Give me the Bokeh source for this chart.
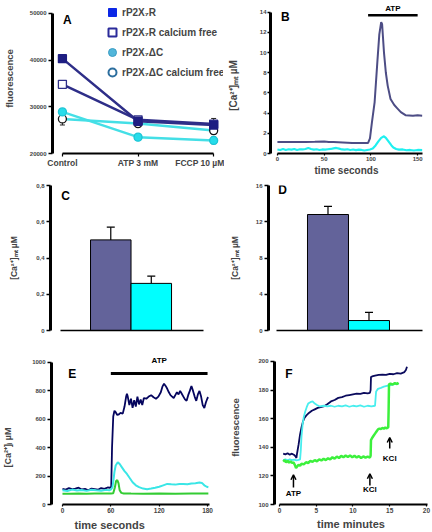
from bokeh.plotting import figure
from bokeh.layouts import row, column
from bokeh.models import (ColumnDataSource, FixedTicker, Whisker, TeeHead, Legend, LegendItem,
                          Arrow, OpenHead, Title, Range1d)
from bokeh.core.properties import value
from bokeh.embed import file_html
from bokeh.resources import INLINE

FONT = "Liberation Sans"
NBSP = "\u00a0"

# ---------------- data ----------------
# Panel A: fluorescence per condition
a_conditions = ["Control", "ATP 3 mM", "FCCP 10 µM"]
a_wt = [40300, 26900, 26100]
a_wt_err = [400, 300, 600]
a_wt_cafree = [34800, 27200, 26300]
a_wt_cafree_err = [500, 300, 1200]
a_dc = [28900, 23500, 22800]
a_dc_err = [400, 500, 700]
a_dc_cafree = [27400, 26400, 24900]
a_dc_cafree_err = [1300, 400, 700]
a_yticks = [20000, 30000, 40000, 50000]

# Panel B: [Ca2+]mt traces (s, uM)
b_t_dark = [0, 10, 20, 30, 40, 50, 55, 60, 70, 80, 90, 97, 99, 101, 104, 107, 109, 111, 112, 114,
            116, 118, 121, 125, 128, 132, 137, 145, 150, 155]
b_dark = [1.15, 1.15, 1.13, 1.15, 1.17, 1.2, 1.15, 1.15, 1.1, 1.05, 1.05, 1.05, 1.5, 3.0, 5.1, 9.2,
          11.8, 13.0, 12.8, 10.0, 8.0, 6.7, 5.4, 4.8, 4.5, 4.1, 3.8, 3.75, 3.8, 3.75]
b_t_cyan = [0, 3, 6, 9, 12, 15, 18, 21, 24, 27, 30, 33, 36, 39, 42, 45, 48, 51, 54, 57, 60, 63, 66,
            69, 72, 75, 78, 81, 84, 87, 90, 93, 96, 99, 102, 105, 108, 111, 114, 116, 118, 120, 122,
            124, 127, 130, 134, 138, 142, 146, 150, 155]
b_cyan = [0.4, 0.35, 0.45, 0.35, 0.42, 0.38, 0.45, 0.35, 0.42, 0.4, 0.45, 0.55, 0.45, 0.38, 0.42,
          0.35, 0.4, 0.38, 0.42, 0.45, 0.5, 0.55, 0.48, 0.4, 0.38, 0.42, 0.35, 0.4, 0.33, 0.38, 0.35,
          0.3, 0.35, 0.4, 0.5, 0.8, 1.2, 1.55, 1.7, 1.55, 1.3, 1.05, 0.8, 0.6, 0.45, 0.38, 0.4, 0.32,
          0.35, 0.3, 0.35, 0.33]
b_atp = [97, 150]
b_yticks = [0, 2, 4, 6, 8, 10, 12, 14]
b_xticks = [0, 50, 100, 150]

# Panel C / D: bars
cd_groups = [1, 2]
c_values = [0.50, 0.26]
c_err = [0.07, 0.04]
c_yticks = [0, 0.2, 0.4, 0.6, 0.8]
c_ylabels = ["0", "0,2", "0,4", "0,6", "0,8"]
d_values = [12.8, 1.1]
d_err = [0.9, 0.9]
d_yticks = [0, 4, 8, 12, 16]

# Panel E: [Ca2+]i traces (s)
e_t_navy = [0, 4, 8, 12, 16, 20, 24, 28, 32, 36, 40, 44, 48, 52, 56, 59, 60.5, 61.5, 63, 64.5, 66,
            68, 70, 72, 74.8, 77, 79, 80, 81, 83, 85, 87, 89, 91, 93, 95, 97, 99, 101, 104, 107, 110,
            113, 116, 119, 122, 124, 126, 128, 130, 132, 134, 136, 138, 140, 142, 144, 146, 148, 150,
            152, 154, 156, 158, 160, 162, 164, 166, 168, 170, 172, 174, 176, 178, 180, 181]
e_navy = [110, 105, 115, 108, 112, 118, 106, 110, 100, 112, 108, 104, 116, 110, 120, 118, 125, 400,
          620, 660, 650, 630, 635, 645, 640, 690, 760, 780, 760, 700, 745, 680, 735, 690, 760, 705,
          740, 700, 750, 745, 760, 770, 755, 745, 760, 790, 830, 850, 835, 815, 790, 770, 760, 750,
          770, 790, 775, 800, 780, 760, 740, 730, 770, 800, 835, 800, 760, 730, 775, 800, 760, 700,
          680, 720, 750, 755]
e_t_cyan = [0, 6, 12, 18, 24, 30, 36, 42, 48, 54, 58, 60, 62, 63, 64.5, 66, 68.6, 71, 74, 77, 80, 83,
            87, 91, 95, 100, 105, 110, 115, 120, 125, 130, 135, 140, 145, 150, 155, 160, 165, 170,
            173, 176, 179, 181]
e_cyan = [100, 95, 105, 98, 102, 96, 104, 100, 97, 103, 100, 105, 120, 160, 230, 275, 298, 285, 260,
          235, 215, 190, 157, 135, 122, 112, 108, 112, 118, 125, 135, 145, 142, 140, 145, 145, 142,
          148, 150, 155, 152, 135, 125, 122]
e_t_green = [0, 10, 20, 30, 40, 50, 60, 63, 65, 66.5, 68, 69.5, 71, 73, 76, 85, 100, 120, 140, 160,
             181]
e_green = [75, 76, 78, 76, 78, 77, 78, 80, 120, 165, 172, 150, 100, 82, 78, 77, 76, 78, 76, 77, 78]
e_atp = [60, 180]
e_yticks = [0, 200, 400, 600, 800, 1000]
e_xticks = [0, 60, 120, 180]

# Panel F: fluorescence traces (min)
f_t_navy = [0.5, 0.8, 1.1, 1.4, 1.7, 2.0, 2.2, 2.3, 2.4, 2.6, 2.8, 3.0, 3.2, 3.4, 3.7, 4.0, 4.4, 4.8,
            5.2, 5.6, 6.0, 6.5, 7.0, 7.5, 8.0, 8.5, 9.0, 9.5, 10.0, 10.5, 11.0, 11.5, 12.0, 12.3,
            12.4, 12.45, 12.6, 13.0, 13.5, 14.0, 14.5, 15.0, 15.5, 16.0, 16.5, 17.0, 17.2, 17.35]
f_navy = [135.5, 135, 135.8, 134.8, 135.5, 134.6, 133.5, 132.5, 136, 142, 149, 154, 158, 160.5,
          162.5, 164, 165.5, 166.5, 167.5, 168, 168.5, 170, 172, 173, 174.5, 175, 176, 176.5, 177,
          177.5, 177.3, 178, 177.6, 178, 180, 189, 189.5, 190, 190.5, 190.8, 190.5, 191.2, 191,
          191.8, 191.5, 192.5, 194, 196.3]
f_t_cyan = [0.5, 0.8, 1.1, 1.4, 1.7, 2.0, 2.3, 2.6, 2.8, 2.9, 3.0, 3.15, 3.3, 3.5, 3.7, 3.9, 4.2,
            4.5, 4.8, 5.1, 5.5, 6.0, 6.5, 7.0, 7.5, 8.0, 8.5, 9.0, 9.5, 10.0, 10.5, 11.0, 11.5, 12.0,
            12.5, 13.0, 13.1, 13.15, 13.4, 13.8, 14.2, 14.6, 15.0, 15.4, 15.8, 16.2]
f_cyan = [131, 131.5, 130.8, 131.5, 131, 131.3, 130.8, 131.2, 131.5, 138, 148, 156, 161, 165, 168,
          170.5, 171.5, 172, 170.5, 169.5, 168.5, 169, 168.5, 169, 168.3, 169, 168.5, 169.2, 168.3,
          169, 168.5, 169.3, 168.3, 169, 168.5, 169, 176, 179, 180.8, 181.5, 182.3, 182.8, 183.3,
          183.8, 184.2, 184.5]
f_t_green = [0.5, 0.7, 0.9, 1.1, 1.3, 1.5, 1.7, 1.9, 2.1, 2.25, 2.4, 2.6, 2.8, 3.0, 3.3, 3.6, 3.9,
             4.2, 4.5, 4.8, 5.1, 5.4, 5.7, 6.0, 6.3, 6.6, 6.9, 7.2, 7.5, 7.8, 8.1, 8.4, 8.7, 9.0, 9.3,
             9.6, 9.9, 10.2, 10.5, 10.8, 11.1, 11.4, 11.7, 12.0, 12.3, 12.4, 12.45, 12.6, 12.8, 13.0,
             13.2, 13.4, 13.6, 13.8, 14.0, 14.2, 14.4, 14.6, 14.8, 14.85, 14.9, 15.1, 15.4, 15.7,
             16.0, 16.2]
f_green = [130, 131, 129.5, 130.5, 129.2, 130.2, 129, 129.5, 127.5, 125.5, 126.5, 127.8, 127, 128.5,
           128, 129.5, 129, 130.5, 129.8, 131, 130.2, 131.5, 130.8, 132, 131, 132.3, 131.5, 133,
           132, 133.5, 132.5, 134, 133, 134.2, 133.2, 134.3, 133, 134, 132.8, 133.8, 132.5, 133.6,
           132.7, 133.5, 132.8, 134, 145, 146.5, 148, 149.5, 151, 152.5, 153, 152.8, 153.5, 153,
           153.8, 153.2, 154, 166, 184, 184.5, 183.8, 184.8, 184.2, 185]
f_events = [("ATP", 1.9), ("KCl", 12.3), ("KCl", 15.0)]
f_yticks = [100, 120, 140, 160, 180, 200]
f_xticks = [0, 5, 10, 15, 20]

NAVY_A = "#2e2e88"
CYAN_A = "#44dfe6"


# ---------------- helpers ----------------
def base_fig(width, height, xr, yr, left, right, top, bottom):
    p = figure(width=width, height=height, x_range=Range1d(*xr), y_range=Range1d(*yr),
               min_border_left=left, min_border_right=right, min_border_top=top,
               min_border_bottom=bottom, output_backend="svg", toolbar_location=None,
               title=None)
    p.grid.visible = False
    p.outline_line_color = None
    p.background_fill_color = "white"
    p.border_fill_color = "white"
    return p


def style_y(p, ticks, bounds, label, label_size, standoff, overrides=None, tick_out=4,
            tick_standoff=2):
    ax = p.yaxis[0]
    ax.ticker = FixedTicker(ticks=ticks)
    ax.bounds = bounds
    ax.axis_line_width = 3
    ax.axis_line_color = "black"
    ax.major_tick_out = tick_out
    ax.major_tick_in = 0
    ax.major_tick_line_width = 1.5
    ax.minor_tick_out = 0
    ax.minor_tick_in = 0
    ax.major_label_standoff = tick_standoff
    ax.major_label_text_font = FONT
    ax.major_label_text_font_style = "bold"
    ax.major_label_text_font_size = "6px"
    if overrides:
        ax.major_label_overrides = overrides
    ax.axis_label = label
    ax.axis_label_text_font = FONT
    ax.axis_label_text_font_style = "bold"
    ax.axis_label_text_font_size = label_size
    ax.axis_label_standoff = standoff


def style_x(p, ticks, bounds, tick_size="6px", overrides=None, tick_out=2, line_width=1.8,
            label=None, label_size="10px", standoff=1):
    ax = p.xaxis[0]
    ax.ticker = FixedTicker(ticks=ticks)
    ax.bounds = bounds
    ax.axis_line_width = line_width
    ax.axis_line_color = "black"
    ax.major_tick_out = tick_out
    ax.major_tick_in = 0
    ax.major_tick_line_width = 1.2
    ax.minor_tick_out = 0
    ax.minor_tick_in = 0
    ax.major_label_standoff = 1
    ax.major_label_text_font = FONT
    ax.major_label_text_font_style = "bold"
    ax.major_label_text_font_size = tick_size
    if overrides:
        ax.major_label_overrides = overrides
    if label:
        ax.axis_label = label
        ax.axis_label_text_font = FONT
        ax.axis_label_text_font_style = "bold"
        ax.axis_label_text_font_size = label_size
        ax.axis_label_standoff = standoff


def letter(p, x, y, t):
    p.text(x=[x], y=[y], text=[t], text_font=value(FONT), text_font_style="bold",
           text_font_size="12px", text_align="center", text_baseline="middle", text_color="black")


def label_text(p, x, y, t, size="8px"):
    p.text(x=[x], y=[y], text=[t], text_font=value(FONT), text_font_style="bold",
           text_font_size=size, text_align="center", text_baseline="middle", text_color="black")


# ---------------- Panel A ----------------
pA = base_fig(224, 178, (-0.131, 2.13), (20000, 52100), 50, 1, 3, 21)
xa = list(range(len(a_conditions)))
style_y(pA, a_yticks, (20000, 50000), "fluorescence", "9.5px", 12)
style_x(pA, xa, (0, 2), tick_size="8.5px", tick_out=3,
        overrides={i: c for i, c in enumerate(a_conditions)})

series_a = [
    (a_dc_cafree, a_dc_cafree_err, CYAN_A, "circle", "white", "#111111"),
    (a_dc, a_dc_err, CYAN_A, "circle", "#26dcea", "#1cc4d4"),
    (a_wt_cafree, a_wt_cafree_err, NAVY_A, "square", "white", "#303088"),
    (a_wt, a_wt_err, NAVY_A, "square", "#1e1e82", "#1e1e82"),
]
for vals, errs, lc, mk, fc, mlc in series_a:
    pA.line(xa, vals, line_color=lc, line_width=2.5)
for vals, errs, lc, mk, fc, mlc in series_a:
    src = ColumnDataSource(dict(x=xa, up=[v + e for v, e in zip(vals, errs)],
                                lo=[v - e for v, e in zip(vals, errs)]))
    pA.add_layout(Whisker(source=src, base="x", upper="up", lower="lo", line_color="#222222",
                          line_width=1, upper_head=TeeHead(size=5, line_color="#222222", line_width=1),
                          lower_head=TeeHead(size=5, line_color="#222222", line_width=1)))
for vals, errs, lc, mk, fc, mlc in series_a:
    pA.scatter(xa, vals, marker=mk, size=8, fill_color=fc, line_color=mlc, line_width=1.3)

nan = float("nan")
lg1 = pA.scatter([nan], [nan], marker="square", fill_color="#0b27e6", line_color="#0b27e6")
lg2 = pA.scatter([nan], [nan], marker="square", fill_color="white", line_color="#2b2b9a",
                 line_width=2)
lg3 = pA.scatter([nan], [nan], marker="circle", fill_color="#52b6da", line_color="#3a9cc4")
lg4 = pA.scatter([nan], [nan], marker="circle", fill_color="white", line_color="#2c6e9e",
                 line_width=2)
legend = Legend(items=[LegendItem(label="rP2X₇R", renderers=[lg1]),
                       LegendItem(label="rP2X₇R calcium free", renderers=[lg2]),
                       LegendItem(label="rP2X₇ΔC", renderers=[lg3]),
                       LegendItem(label="rP2X₇ΔC calcium free", renderers=[lg4])],
                location=(50, 71), glyph_width=20, glyph_height=20, label_height=20,
                label_width=10, spacing=0, padding=0, margin=0, label_standoff=0,
                border_line_color=None, background_fill_alpha=0, label_text_font=FONT,
                label_text_font_style="bold", label_text_font_size="10px")
pA.add_layout(legend)
letter(pA, 0.065, 48500, "A")

# ---------------- Panel B ----------------
pB = base_fig(208, 178, (-7.4, 155.2), (0, 14.86), 44, 10, 3, 21)
style_y(pB, b_yticks, (0, 14), "[Ca²⁺]ₘₜ µM" + NBSP * 5, "10px", 18, tick_out=3,
        tick_standoff=1)
style_x(pB, b_xticks, (0, 155.2), label="time seconds", label_size="10px", standoff=1)
pB.line(b_t_dark, b_dark, line_color="#4d4d85", line_width=2)
pB.line(b_t_cyan, b_cyan, line_color="#1ff0f0", line_width=2.2)
pB.segment(x0=[b_atp[0]], x1=[b_atp[1]], y0=[13.7], y1=[13.7], line_color="black",
           line_width=2.5)
label_text(pB, sum(b_atp) / 2, 14.38, "ATP")
letter(pB, 8.4, 13.5, "B")

# ---------------- Panel C ----------------
pC = base_fig(224, 167, (-0.488, 3.61), (0, 0.8), 50, 8, 7, 15)
style_y(pC, c_yticks, (0, 0.8), "[Ca²⁺]ₘₜ µM", "8.5px", 14,
        overrides={t: l for t, l in zip(c_yticks, c_ylabels)})
style_x(pC, [], (-0.24, 3.29), line_width=1.5)
bar_colors = ["#63639a", "#00ffff"]
pC.vbar(x=cd_groups, top=c_values, width=1, fill_color=bar_colors, line_color="black",
        line_width=1)
srcC = ColumnDataSource(dict(x=cd_groups, up=[v + e for v, e in zip(c_values, c_err)],
                             lo=c_values))
pC.add_layout(Whisker(source=srcC, base="x", upper="up", lower="lo", line_color="black",
                      line_width=1.2, upper_head=TeeHead(size=8, line_color="black", line_width=1.2),
                      lower_head=None))
letter(pC, -0.117, 0.74, "C")

# ---------------- Panel D ----------------
pD = base_fig(208, 167, (-0.451, 3.305), (0, 16), 44, 10, 7, 15)
style_y(pD, d_yticks, (0, 16), "[Ca²⁺]ₘₜ µM", "8.5px", 13)
style_x(pD, [], (-0.256, 3.3), line_width=1.5)
pD.vbar(x=cd_groups, top=d_values, width=1, fill_color=bar_colors, line_color="black",
        line_width=1)
srcD = ColumnDataSource(dict(x=cd_groups, up=[v + e for v, e in zip(d_values, d_err)],
                             lo=d_values))
pD.add_layout(Whisker(source=srcD, base="x", upper="up", lower="lo", line_color="black",
                      line_width=1.2, upper_head=TeeHead(size=8, line_color="black", line_width=1.2),
                      lower_head=None))
letter(pD, -0.11, 15.45, "D")

# ---------------- Panel E ----------------
pE = base_fig(224, 187, (-13.6, 191.1), (0, 1084.5), 50, 8, 5, 28)
style_y(pE, e_yticks, (0, 1000), "[Ca²⁺]ᵢ µM" + NBSP * 16, "9px", 16)
style_x(pE, e_xticks, (0, 182), tick_size="6.5px")
pE.add_layout(Title(text="time seconds", align="left", offset=23, standoff=3, text_font=FONT,
                    text_font_style="bold", text_font_size="11px"), "below")
pE.line(e_t_navy, e_navy, line_color="#05055e", line_width=1.8)
pE.line(e_t_cyan, e_cyan, line_color="#3ae6e6", line_width=2)
pE.line(e_t_green, e_green, line_color="#33cc33", line_width=2)
pE.segment(x0=[e_atp[0]], x1=[e_atp[1]], y0=[922], y1=[922], line_color="black", line_width=3)
label_text(pE, sum(e_atp) / 2, 1014, "ATP")
letter(pE, 12.3, 922, "E")

# ---------------- Panel F ----------------
pF = base_fig(208, 187, (-0.68, 20.14), (100, 207.6), 50, 5, 5, 28)
style_y(pF, f_yticks, (100, 200), "fluorescence", "9.5px", 14)
style_x(pF, f_xticks, (0, 20.14), tick_size="6.5px", label="time minutes", label_size="11px",
        standoff=2)
pF.line(f_t_navy, f_navy, line_color="#0a0a5c", line_width=1.8)
pF.line(f_t_cyan, f_cyan, line_color="#48eeee", line_width=1.8)
pF.line(f_t_green, f_green, line_color="#3cf03c", line_width=2.5)
arrow_geom = [(111.8, 120.8, 107.6), (113.2, 121.5, 110.4), (139.2, 146.8, 131.9)]
for (name, t), (y0, y1, yt) in zip(f_events, arrow_geom):
    pF.add_layout(Arrow(x_start=t, y_start=y0, x_end=t, y_end=y1, line_width=1.5,
                        line_color="black", end=OpenHead(size=5, line_width=1.5,
                                                         line_color="black")))
    label_text(pF, t, yt, name)
letter(pF, 1.27, 191.5, "F")

layout = column(row(pA, pB), row(pC, pD), row(pE, pF))
open("out.html", "w").write(file_html(layout, INLINE))
